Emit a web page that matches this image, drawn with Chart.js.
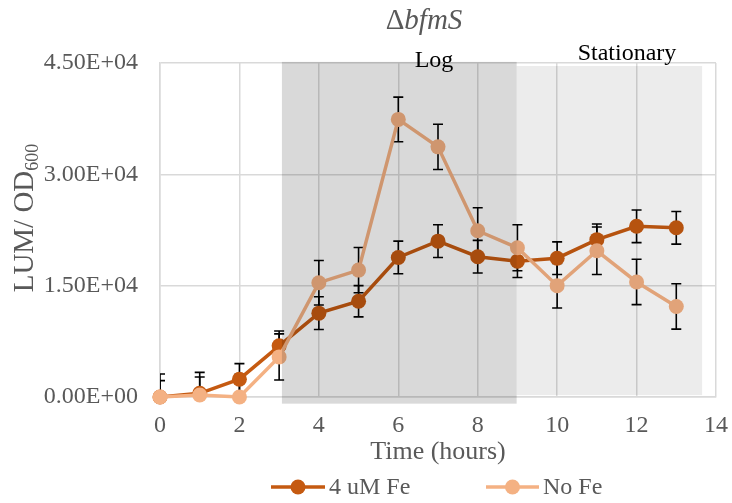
<!DOCTYPE html>
<html>
<head>
<meta charset="utf-8">
<script src="https://cdn.jsdelivr.net/npm/chart.js@4.4.1/dist/chart.umd.min.js"></script>
<style>
  html, body { margin: 0; padding: 0; background: #fff; }
  #wrap { width: 732px; height: 503px; position: relative; }
</style>
</head>
<body>
<div id="wrap"><canvas id="chart" width="732" height="503"></canvas></div>
<script>
// values
const hours = [0, 1, 2, 3, 4, 5, 6, 7, 8, 9, 10, 11, 12, 13];
const feMean = [0, 500, 2400, 6900, 11300, 12900, 18800, 21000, 18900, 18300, 18700, 21200, 23000, 22800];
const feErr = [2200, 2200, 2100, 2000, 2200, 2100, 2200, 2200, 2200, 2200, 2200, 2100, 2200, 2200];
const noFeMean = [0, 270, 0, 5400, 15400, 17100, 37400, 33700, 22400, 20100, 15000, 19700, 15500, 12200];
const noFeErr = [3100, 3050, 3050, 3100, 3000, 3050, 3000, 3050, 3100, 3100, 3000, 3200, 3050, 3050];
const xTicks = [0, 2, 4, 6, 8, 10, 12, 14];
const yTicks = [0, 15000, 30000, 45000];

// growth phases, in hours
const logPhase = [3.07, 8.98];
const statPhase = [8.98, 13.65];

const FE = '#c55a11';
const NOFE = '#f4b183';
const SERIF = '"Liberation Serif", "Times New Roman", serif';
const GREY = '#595959';

function sci(v){
  const [m, e] = v.toExponential(2).toUpperCase().split('E');
  const sign = e[0] === '-' ? '-' : '+';
  const digits = e.replace(/[+-]/, '').padStart(2, '0');
  return `${m}E${sign}${digits}`;
}

function pts(ys){ return hours.map((h, i) => ({ x: h, y: ys[i] })); }

const errorBars = {
  id: 'errorBars',
  beforeDatasetsDraw(chart){
    const { ctx, chartArea, scales } = chart;
    ctx.save();
    ctx.beginPath();
    ctx.rect(chartArea.left, chartArea.top, chartArea.right - chartArea.left, chartArea.bottom - chartArea.top);
    ctx.clip();
    ctx.strokeStyle = '#000';
    ctx.lineWidth = 1.6;
    chart.data.datasets.forEach(ds => {
      ds.data.forEach((p, i) => {
        const e = ds.err[i];
        const x = scales.x.getPixelForValue(p.x);
        const y1 = scales.y.getPixelForValue(p.y - e);
        const y2 = scales.y.getPixelForValue(p.y + e);
        ctx.beginPath();
        ctx.moveTo(x, y1); ctx.lineTo(x, y2);
        ctx.moveTo(x - 5, y1); ctx.lineTo(x + 5, y1);
        ctx.moveTo(x - 5, y2); ctx.lineTo(x + 5, y2);
        ctx.stroke();
      });
    });
    ctx.restore();
  }
};

const phases = {
  id: 'phases',
  afterDatasetsDraw(chart){
    const { ctx, scales } = chart;
    const xs = scales.x, ys = scales.y;
    ctx.save();
    // stationary phase (light)
    ctx.fillStyle = 'rgba(0,0,0,0.075)';
    ctx.fillRect(xs.getPixelForValue(statPhase[0]), ys.getPixelForValue(44600),
      xs.getPixelForValue(statPhase[1]) - xs.getPixelForValue(statPhase[0]),
      ys.getPixelForValue(250) - ys.getPixelForValue(44600));
    // log phase (dark)
    ctx.fillStyle = 'rgba(0,0,0,0.15)';
    ctx.fillRect(xs.getPixelForValue(logPhase[0]), ys.getPixelForValue(45150),
      xs.getPixelForValue(logPhase[1]) - xs.getPixelForValue(logPhase[0]),
      ys.getPixelForValue(-900) - ys.getPixelForValue(45150));

    ctx.fillStyle = '#000';
    ctx.font = `24px ${SERIF}`;
    ctx.textAlign = 'center';
    ctx.textBaseline = 'alphabetic';
    ctx.fillText('Log', 434, 67);
    ctx.fillText('Stationary', 627, 60);
    ctx.restore();
  }
};

const labels = {
  id: 'labels',
  afterDraw(chart){
    const { ctx, chartArea } = chart;
    ctx.save();
    ctx.fillStyle = GREY;
    ctx.textBaseline = 'alphabetic';

    // title: Δ upright, bfmS italic
    ctx.font = `29px ${SERIF}`;
    const dW = ctx.measureText('Δ').width;
    ctx.font = `italic 29px ${SERIF}`;
    const tW = ctx.measureText('bfmS').width;
    let tx = 424 - (dW + tW) / 2;
    ctx.textAlign = 'left';
    ctx.font = `29px ${SERIF}`;
    ctx.fillText('Δ', tx, 29);
    ctx.font = `italic 29px ${SERIF}`;
    ctx.fillText('bfmS', tx + dW, 29);

    // x title
    ctx.textAlign = 'center';
    ctx.font = `26px ${SERIF}`;
    ctx.fillText('Time (hours)', (chartArea.left + chartArea.right) / 2, 459);

    // y title with subscript
    ctx.save();
    ctx.translate(33, 218);
    ctx.rotate(-Math.PI / 2);
    ctx.font = `29px ${SERIF}`;
    const mW = ctx.measureText('LUM/ OD').width;
    ctx.font = `18px ${SERIF}`;
    const sW = ctx.measureText('600').width;
    const sx = -(mW + sW) / 2;
    ctx.textAlign = 'left';
    ctx.font = `29px ${SERIF}`;
    ctx.fillText('LUM/ OD', sx, 0);
    ctx.font = `18px ${SERIF}`;
    ctx.fillText('600', sx + mW, 5);
    ctx.restore();

    // legend
    const items = [
      { label: '4 uM Fe', color: FE, x0: 271, x1: 325 },
      { label: 'No Fe', color: NOFE, x0: 486, x1: 539 },
    ];
    const ly = 487;
    items.forEach(it => {
      ctx.strokeStyle = it.color;
      ctx.lineWidth = 3.5;
      ctx.beginPath();
      ctx.moveTo(it.x0, ly); ctx.lineTo(it.x1, ly);
      ctx.stroke();
      ctx.fillStyle = it.color;
      ctx.beginPath();
      ctx.arc((it.x0 + it.x1) / 2, ly, 7.5, 0, Math.PI * 2);
      ctx.fill();
      ctx.fillStyle = GREY;
      ctx.font = `24px ${SERIF}`;
      ctx.textAlign = 'left';
      ctx.textBaseline = 'middle';
      ctx.fillText(it.label, it.x1 + 4, ly + 1);
    });
    ctx.restore();
  }
};

new Chart(document.getElementById('chart'), {
  type: 'line',
  data: {
    datasets: [
      { label: 'No Fe', data: pts(noFeMean), err: noFeErr, borderColor: NOFE, backgroundColor: NOFE,
        borderWidth: 3.5, pointRadius: 7.5, pointBorderWidth: 0, pointHoverRadius: 7.5, order: 0, clip: false },
      { label: '4 uM Fe', data: pts(feMean), err: feErr, borderColor: FE, backgroundColor: FE,
        borderWidth: 3.5, pointRadius: 7.5, pointBorderWidth: 0, pointHoverRadius: 7.5, order: 1, clip: false },
    ]
  },
  options: {
    responsive: false,
    animation: false,
    events: [],
    layout: { padding: { top: 63, right: 16, bottom: 0, left: 0 } },
    plugins: { legend: { display: false }, title: { display: false }, tooltip: { enabled: false } },
    scales: {
      x: {
        type: 'linear', min: 0, max: 14,
        afterFit(s){ s.height = 106; s.paddingLeft = 0; s.paddingRight = 0; },
        afterBuildTicks(s){ s.ticks = xTicks.map(v => ({ value: v })); },
        grid: { color: '#d9d9d9', lineWidth: 1.5, drawTicks: false },
        border: { color: '#d9d9d9', width: 1.5 },
        ticks: { padding: 14, color: GREY, font: { family: SERIF, size: 24 } }
      },
      y: {
        min: 0, max: 45000,
        afterFit(s){ s.width = 160; s.paddingTop = 0; s.paddingBottom = 0; },
        afterBuildTicks(s){ s.ticks = yTicks.map(v => ({ value: v })); },
        grid: { color: '#d9d9d9', lineWidth: 1.5, drawTicks: false },
        border: { color: '#d9d9d9', width: 1.5 },
        ticks: { padding: 22, color: GREY, font: { family: SERIF, size: 24 }, callback: v => sci(v) }
      }
    }
  },
  plugins: [errorBars, phases, labels]
});
</script>
</body>
</html>
